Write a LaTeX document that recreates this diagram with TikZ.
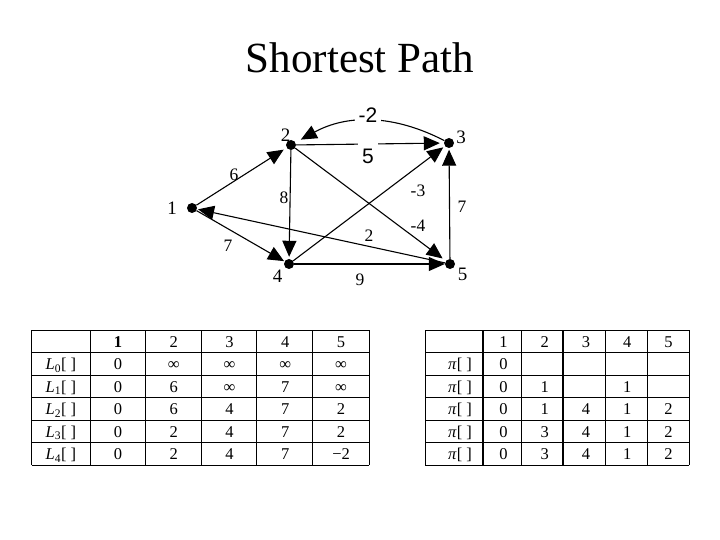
\documentclass[tikz,border=0pt]{standalone}
\usepackage{fontspec}
\setmainfont{Liberation Serif}
\newfontfamily\sansf{Liberation Sans}
\usetikzlibrary{arrows.meta}
\begin{document}
\begin{tikzpicture}[x=1pt,y=-1pt,
  vtx/.style={circle,fill=black,inner sep=0pt,minimum size=10pt},
  edge/.style={line width=1.1pt,-{Triangle[length=16pt,width=14pt]},shorten >=2pt},
  elab/.style={font=\fontsize{17.5}{17.5}\selectfont,inner sep=1pt},
  vlab/.style={font=\fontsize{19}{19}\selectfont,inner sep=1pt},
  blab/.style={font=\sansf\fontsize{21}{21}\selectfont,fill=white,inner xsep=4pt},
  cell/.style={font=\fontsize{16.5}{16.5}\selectfont,inner sep=0pt,text height=12pt,text depth=0pt},
  tline/.style={line width=0.9pt},
  tbold/.style={line width=2.4pt}
]
\useasboundingbox (0,0) rectangle (720,540);

\node[font=\fontsize{43}{43}\selectfont,inner sep=0pt] (title) at (360,57.5) {Shortest Path};

% vertices
\node[vtx] (n1) at (192,208) {};
\node[vtx] (n2) at (291,145) {};
\node[vtx] (n3) at (449,143) {};
\node[vtx] (n4) at (289,264) {};
\node[vtx] (n5) at (450,264) {};

% edges
\draw[edge,shorten >=3.5pt] (n1) -- (n2);
\draw[edge,shorten >=0.5pt] (n1) -- (n4);
\draw[edge] (n2) -- (n4);
\draw[edge,shorten >=0pt] (n4) -- (n5);
\draw[edge,shorten >=4pt] (n2) -- (n5);
\draw[edge,shorten >=1pt] (n5) -- (n1);
\draw[edge,shorten >=1.5pt] (n5) -- (n3);
\draw[edge] (n4) -- (n3);
\draw[edge,shorten >=4pt] (n2) -- (n3);
\draw[edge,shorten >=6pt] (n3) to[bend right=28] (n2);

% edge labels
\node[elab] (l12) at (234,175) {6};
\node[elab] (l24) at (284,198) {8};
\node[elab] (l14) at (228,246) {7};
\node[elab] (l51) at (369,236) {2};
\node[elab] (l43) at (418,191) {-3};
\node[elab] (l25) at (418,226) {-4};
\node[elab] (l53) at (462,207) {7};
\node[elab] (l45) at (360,280) {9};
\node[blab] (l32) at (368,115) {-2};
\node[blab,text height=24pt,text depth=4pt,inner ysep=0pt] (l23) at (368,154) {5};

% vertex labels
\node[vlab] (v1) at (172,208) {1};
\node[vlab] (v2) at (285.5,135) {2};
\node[vlab] (v3) at (461,137.5) {3};
\node[vlab] (v4) at (277.5,276.5) {4};
\node[vlab] (v5) at (462.5,274) {5};

% left table grid
\foreach \x in {31.7,90,145,201.7,256.7,312.7,369} \draw[tline] (\x,330) -- (\x,465);
\foreach \y in {330,352.5,375,397.5,420,442.5,465} \draw[tline] (31.7,\y) -- (369,\y);

% left table text
\foreach \t [count=\c] in {\textbf{1},2,3,4,5}
  \node[cell] (A-0-\c) at ({90+55.8*(\c-0.5)},341.25) {\t};
\foreach \t [count=\c] in {0,∞,∞,∞,∞}
  \node[cell] (A-1-\c) at ({90+55.8*(\c-0.5)},363.75) {\t};
\foreach \t [count=\c] in {0,6,∞,7,∞}
  \node[cell] (A-2-\c) at ({90+55.8*(\c-0.5)},386.25) {\t};
\foreach \t [count=\c] in {0,6,4,7,2}
  \node[cell] (A-3-\c) at ({90+55.8*(\c-0.5)},408.75) {\t};
\foreach \t [count=\c] in {0,2,4,7,2}
  \node[cell] (A-4-\c) at ({90+55.8*(\c-0.5)},431.25) {\t};
\foreach \t [count=\c] in {0,2,4,7,−2}
  \node[cell] (A-5-\c) at ({90+55.8*(\c-0.5)},453.75) {\t};
\foreach \r in {0,...,4}
  \node[cell] (A-L-\r) at (60.85,{363.75+22.5*\r}) {\textit{L}\textsubscript{\r}[\hspace{4pt}]};

% right table grid
\foreach \x in {425,521,605,647,689} \draw[tline] (\x,330) -- (\x,465);
\foreach \x in {483,563} \draw[tbold] (\x,330) -- (\x,465);
\foreach \y in {330,352.5,375,397.5,420,442.5,465} \draw[tline] (425,\y) -- (689,\y);

% right table text
\foreach \t [count=\c] in {1,2,3,4,5}
  \node[cell] (B-0-\c) at ({483+41.2*(\c-0.5)},341.25) {\t};
\foreach \t [count=\c] in {0,{},{},{},{}}
  \node[cell] (B-1-\c) at ({483+41.2*(\c-0.5)},363.75) {\t};
\foreach \t [count=\c] in {0,1,{},1,{}}
  \node[cell] (B-2-\c) at ({483+41.2*(\c-0.5)},386.25) {\t};
\foreach \t [count=\c] in {0,1,4,1,2}
  \node[cell] (B-3-\c) at ({483+41.2*(\c-0.5)},408.75) {\t};
\foreach \t [count=\c] in {0,3,4,1,2}
  \node[cell] (B-4-\c) at ({483+41.2*(\c-0.5)},431.25) {\t};
\foreach \t [count=\c] in {0,3,4,1,2}
  \node[cell] (B-5-\c) at ({483+41.2*(\c-0.5)},453.75) {\t};
\foreach \r in {0,...,4}
  \node[cell] (B-P-\r) at (460,{363.75+22.5*\r}) {\textit{π}[\hspace{4pt}]};
\end{tikzpicture}
\end{document}
